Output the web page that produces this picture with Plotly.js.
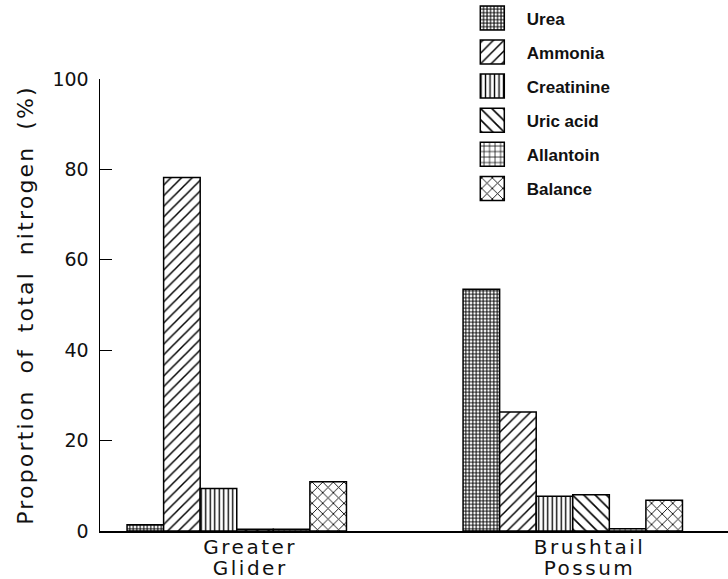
<!DOCTYPE html>
<html>
<head>
<meta charset="utf-8">
<script src="https://cdn.plot.ly/plotly-3.0.1.min.js"></script>
<style>
html,body{margin:0;padding:0;background:#fff;}
.xtick text{letter-spacing:2.5px;}
.ytitle{letter-spacing:2.2px;word-spacing:6.5px;}
</style>
</head>
<body>
<div id="chart" style="width:728px;height:579px;"></div>
<script>
// Data
const categories = ["Greater Glider", "Brushtail Possum"];
const categoryLabels = ["Greater<br>Glider", "Brushtail<br>Possum"];
const categoryPos = [0, 1];
const labelPos = [0.04, 1.05];

const seriesNames = ["Urea", "Ammonia", "Creatinine", "Uric acid", "Allantoin", "Balance"];
const urea       = [1.4, 53.5];
const ammonia    = [78.2, 26.3];
const creatinine = [9.4, 7.7];
const uricAcid   = [0.4, 8.0];
const allantoin  = [0.4, 0.5];
const balance    = [10.9, 6.8];

const seriesValues = [urea, ammonia, creatinine, uricAcid, allantoin, balance];
const patterns = [
  {shape: "+", size: 3.5, solidity: 0.5},
  {shape: "/", size: 7.5, solidity: 0.2},
  {shape: "|", size: 4.5, solidity: 0.3},
  {shape: "\\", size: 8, solidity: 0.2},
  {shape: "+", size: 5.5, solidity: 0.24},
  {shape: "x", size: 7.5, solidity: 0.22}
];

const traces = seriesNames.map((name, i) => ({
  type: "bar",
  name: name,
  x: categoryPos,
  y: seriesValues[i],
  legendgroup: "g" + i,
  marker: {
    color: "#ffffff",
    line: {color: "#000000", width: 1.5},
    pattern: Object.assign({fgcolor: "#000000", bgcolor: "#ffffff", fillmode: "replace"}, patterns[i])
  },
  hoverinfo: "name+y"
}));

const layout = {
  width: 728,
  height: 579,
  margin: {l: 100, r: 0, t: 79, b: 48},
  paper_bgcolor: "#ffffff",
  plot_bgcolor: "#ffffff",
  barmode: "group",
  bargap: 0.347,
  bargroupgap: 0,
  showlegend: true,
  legend: {
    x: 0.600, xanchor: "left",
    y: 1.174, yanchor: "top",
    traceorder: "grouped",
    tracegroupgap: 9,
    itemwidth: 40,
    font: {family: "Liberation Sans, Arial, sans-serif", size: 17, weight: "bold", color: "#111"},
    bgcolor: "rgba(0,0,0,0)"
  },
  xaxis: {
    type: "linear",
    range: [-0.407, 1.462],
    tickvals: labelPos,
    ticktext: categoryLabels,
    ticks: "",
    ticklabelstandoff: -3,
    showgrid: false,
    zeroline: false,
    showline: true,
    linecolor: "#000",
    linewidth: 1.5,
    tickfont: {family: "DejaVu Sans, sans-serif", size: 20, color: "#111"}
  },
  yaxis: {
    range: [0, 100],
    tickvals: [0, 20, 40, 60, 80, 100],
    ticks: "inside",
    ticklen: 12,
    tickwidth: 1.2,
    tickcolor: "#000",
    showgrid: false,
    zeroline: false,
    showline: true,
    linecolor: "#000",
    linewidth: 1.5,
    ticklabelstandoff: 6,
    tickfont: {family: "DejaVu Sans, sans-serif", size: 19, color: "#111"},
    title: {
      text: "Proportion of total nitrogen (%)",
      font: {family: "DejaVu Sans, sans-serif", size: 22, color: "#111"},
      standoff: 12
    }
  }
};

Plotly.newPlot("chart", traces, layout, {displayModeBar: false, staticPlot: true}).then(gd => {
  // tighter line spacing for the two-line category labels
  gd.querySelectorAll(".xtick text tspan.line").forEach(t => {
    const dy = t.getAttribute("dy");
    if (dy && parseFloat(dy) > 0) t.setAttribute("dy", "1.08em");
  });
  // larger legend swatches, keeping the hatch spacing of the bars
  gd.querySelectorAll(".legend .legendpoints path").forEach((p, k) => {
    const s = 2;
    const bb = p.getBBox();
    const cx = bb.x + bb.width / 2, cy = bb.y + bb.height / 2;
    const prev = p.getAttribute("transform") || "";
    p.setAttribute("transform", prev + " translate(" + (cx - 9.5) + "," + cy + ") scale(" + s + ") translate(" + (-cx) + "," + (-cy) + ")");
    p.style.vectorEffect = "non-scaling-stroke";
    const m = (p.style.fill || "").match(/#([^'")]+)/);
    if (m) {
      const pat = document.getElementById(m[1]);
      if (pat) {
        const clone = pat.cloneNode(true);
        const nid = m[1] + "-lg" + k;
        clone.setAttribute("id", nid);
        clone.setAttribute("patternTransform", "scale(" + (1 / s) + ")");
        pat.parentNode.appendChild(clone);
        p.style.fill = "url('#" + nid + "')";
      }
    }
  });
});
</script>
</body>
</html>
